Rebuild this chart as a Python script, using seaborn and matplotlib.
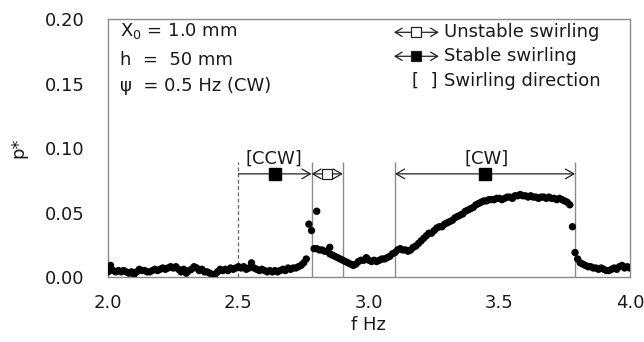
import matplotlib
matplotlib.use("Agg")
import matplotlib.pyplot as plt
from matplotlib.patches import FancyArrowPatch
import seaborn as sns
import pandas as pd

# Frequency sweep (Hz) and dimensionless pressure amplitude p*
freq = [
    2.00, 2.01, 2.02, 2.03, 2.04, 2.05, 2.06, 2.07, 2.08, 2.09,
    2.10, 2.11, 2.12, 2.13, 2.14, 2.15, 2.16, 2.17, 2.18, 2.19,
    2.20, 2.21, 2.22, 2.23, 2.24, 2.25, 2.26, 2.27, 2.28, 2.29,
    2.30, 2.31, 2.32, 2.33, 2.34, 2.35, 2.36, 2.37, 2.38, 2.39,
    2.40, 2.41, 2.42, 2.43, 2.44, 2.45, 2.46, 2.47, 2.48, 2.49,
    2.50, 2.51, 2.52, 2.53, 2.54, 2.55, 2.56, 2.57, 2.58, 2.59,
    2.60, 2.61, 2.62, 2.63, 2.64, 2.65, 2.66, 2.67, 2.68, 2.69,
    2.70, 2.71, 2.72, 2.73, 2.74, 2.75, 2.76, 2.77, 2.78, 2.79,
    2.80, 2.81, 2.82, 2.83, 2.84, 2.85, 2.86, 2.87, 2.88, 2.89,
    2.90, 2.91, 2.92, 2.93, 2.94, 2.95, 2.96, 2.97, 2.98, 2.99,
    3.00, 3.01, 3.02, 3.03, 3.04, 3.05, 3.06, 3.07, 3.08, 3.09,
    3.10, 3.11, 3.12, 3.13, 3.14, 3.15, 3.16, 3.17, 3.18, 3.19,
    3.20, 3.21, 3.22, 3.23, 3.24, 3.25, 3.26, 3.27, 3.28, 3.29,
    3.30, 3.31, 3.32, 3.33, 3.34, 3.35, 3.36, 3.37, 3.38, 3.39,
    3.40, 3.41, 3.42, 3.43, 3.44, 3.45, 3.46, 3.47, 3.48, 3.49,
    3.50, 3.51, 3.52, 3.53, 3.54, 3.55, 3.56, 3.57, 3.58, 3.59,
    3.60, 3.61, 3.62, 3.63, 3.64, 3.65, 3.66, 3.67, 3.68, 3.69,
    3.70, 3.71, 3.72, 3.73, 3.74, 3.75, 3.76, 3.77, 3.78, 3.79,
    3.80, 3.81, 3.82, 3.83, 3.84, 3.85, 3.86, 3.87, 3.88, 3.89,
    3.90, 3.91, 3.92, 3.93, 3.94, 3.95, 3.96, 3.97, 3.98, 3.99,
    4.00,
]
p_star = [
    0.004, 0.009, 0.005, 0.004, 0.005, 0.004, 0.005, 0.004, 0.003, 0.004,
    0.002, 0.004, 0.006, 0.005, 0.005, 0.004, 0.004, 0.005, 0.006, 0.005,
    0.006, 0.007, 0.006, 0.007, 0.008, 0.007, 0.008, 0.006, 0.004, 0.006,
    0.003, 0.005, 0.006, 0.008, 0.007, 0.005, 0.006, 0.004, 0.004, 0.003,
    0.002, 0.002, 0.004, 0.006, 0.005, 0.006, 0.005, 0.007, 0.006, 0.007,
    0.008, 0.007, 0.008, 0.006, 0.007, 0.011, 0.007, 0.006, 0.005, 0.006,
    0.005, 0.004, 0.005, 0.004, 0.005, 0.004, 0.005, 0.006, 0.005, 0.007,
    0.006, 0.007, 0.007, 0.008, 0.009, 0.011, 0.014, 0.041, 0.036, 0.022,
    0.022, 0.021, 0.021, 0.020, 0.020, 0.018, 0.017, 0.016, 0.015, 0.014,
    0.013, 0.012, 0.011, 0.010, 0.009, 0.010, 0.012, 0.013, 0.013, 0.015,
    0.013, 0.012, 0.013, 0.012, 0.013, 0.014, 0.014, 0.015, 0.016, 0.018,
    0.019, 0.021, 0.022, 0.021, 0.021, 0.020, 0.021, 0.023, 0.024, 0.026,
    0.028, 0.030, 0.032, 0.034, 0.034, 0.036, 0.038, 0.039, 0.039, 0.041,
    0.042, 0.043, 0.044, 0.046, 0.047, 0.048, 0.049, 0.051, 0.052, 0.053,
    0.054, 0.056, 0.057, 0.058, 0.059, 0.059, 0.060, 0.060, 0.060, 0.061,
    0.061, 0.060, 0.061, 0.062, 0.062, 0.061, 0.063, 0.063, 0.064, 0.063,
    0.063, 0.062, 0.063, 0.062, 0.062, 0.061, 0.062, 0.062, 0.061, 0.062,
    0.061, 0.061, 0.060, 0.061, 0.060, 0.059, 0.058, 0.056, 0.039, 0.019,
    0.014, 0.011, 0.010, 0.009, 0.008, 0.008, 0.007, 0.007, 0.006, 0.007,
    0.006, 0.005, 0.005, 0.006, 0.007, 0.006, 0.008, 0.009, 0.007, 0.008,
    0.007,
]
# Repeated measurements near the jump
extra_freq = [2.80, 2.85]
extra_p = [0.051, 0.023]

# Regime boundaries (Hz)
ccw_start, ccw_end = 2.50, 2.78
unstable_end = 2.90
cw_start, cw_end = 3.10, 3.79
boundary_top = 0.089
arrow_y = 0.080

df = pd.DataFrame({"f": freq + extra_freq, "p": p_star + extra_p})

sns.set_theme(style="white")
plt.rcParams["font.family"] = ["DejaVu Sans"]
plt.rcParams["mathtext.fontset"] = "dejavusans"

FS = 13

fig = plt.figure(figsize=(6.44, 3.42), dpi=100)
ax = fig.add_axes([0.1677, 0.190, 0.8103, 0.754])

grey = "#8c8c8c"
txt = "#1a1a1a"

sns.scatterplot(data=df, x="f", y="p", ax=ax, color="black", s=28,
                edgecolor="none", legend=False, zorder=3)

# Regime boundaries
ax.vlines([ccw_end, unstable_end, cw_start, cw_end], 0, boundary_top,
          colors=grey, linewidth=1.0, zorder=1)
ax.vlines([ccw_start], 0, boundary_top, colors="#666666", linewidth=0.9,
          linestyles=(0, (3, 2)), zorder=1)


def span_arrow(x0, x1, style):
    ax.add_patch(FancyArrowPatch((x0, arrow_y), (x1, arrow_y),
                                 arrowstyle=style, mutation_scale=10,
                                 color="#222222", linewidth=0.9,
                                 shrinkA=0, shrinkB=0, zorder=2))


span_arrow(ccw_start, ccw_end, "->,head_length=0.6,head_width=0.35")
span_arrow(ccw_end, unstable_end, "<->,head_length=0.6,head_width=0.35")
span_arrow(cw_start, cw_end, "<->,head_length=0.6,head_width=0.35")

ax.plot([(ccw_start + ccw_end) / 2], [arrow_y], marker="s", ms=9,
        color="black", zorder=4)
ax.plot([(ccw_end + unstable_end) / 2], [arrow_y], marker="s", ms=7,
        mfc="white", mec="#222222", mew=0.9, zorder=4)
ax.plot([(cw_start + cw_end) / 2], [arrow_y], marker="s", ms=9,
        color="black", zorder=4)

ax.text(2.635, 0.0845, "[CCW]", ha="center", va="bottom", fontsize=FS,
        color=txt)
ax.text(3.45, 0.0845, "[CW]", ha="center", va="bottom", fontsize=FS,
        color=txt)

# Parameter block
ax.text(0.023, 0.955, r"X$_0$ = 1.0 mm", transform=ax.transAxes,
        ha="left", va="center", fontsize=FS, color=txt)
ax.text(0.023, 0.840, "h  =  50 mm", transform=ax.transAxes,
        ha="left", va="center", fontsize=FS, color=txt)
ax.text(0.023, 0.742, "\u03c8  = 0.5 Hz (CW)", transform=ax.transAxes,
        ha="left", va="center", fontsize=FS, color=txt)

# Key
tr = ax.transAxes
rows = [0.949, 0.856, 0.760]
for yy, face in zip(rows[:2], ["white", "black"]):
    ax.add_patch(FancyArrowPatch((0.548, yy), (0.634, yy), transform=tr,
                                 arrowstyle="<->,head_length=0.5,head_width=0.3",
                                 mutation_scale=10, color="#222222", lw=0.9,
                                 shrinkA=0, shrinkB=0))
    ax.plot([0.591], [yy], transform=tr, marker="s", ms=7, mfc=face,
            mec="#222222", mew=0.9, clip_on=False)
ax.text(0.607, rows[2], "[  ]", transform=tr, ha="center", va="center",
        fontsize=FS, color=txt)
labels = ["Unstable swirling", "Stable swirling", "Swirling direction"]
for yy, lab in zip(rows, labels):
    ax.text(0.644, yy, lab, transform=tr, ha="left", va="center",
            fontsize=FS, color=txt)

ax.set_xlim(2.0, 4.0)
ax.set_ylim(0.0, 0.20)
ax.set_xticks([2.0, 2.5, 3.0, 3.5, 4.0])
ax.set_yticks([0.00, 0.05, 0.10, 0.15, 0.20])
ax.set_xticklabels(["2.0", "2.5", "3.0", "3.5", "4.0"])
ax.set_yticklabels(["0.00", "0.05", "0.10", "0.15", "0.20"])
ax.tick_params(axis="both", direction="in", length=5, width=0.9,
               color=grey, labelsize=FS, labelcolor=txt)
ax.tick_params(axis="y", pad=17)
ax.tick_params(axis="x", pad=12)
for sp in ax.spines.values():
    sp.set_color(grey)
    sp.set_linewidth(1.0)
    sp.set_visible(True)

ax.set_xlabel("f Hz", fontsize=FS, color=txt, labelpad=3)
ax.set_ylabel("p*", fontsize=FS, color=txt, labelpad=12)

fig.savefig("out.png", dpi=100)
